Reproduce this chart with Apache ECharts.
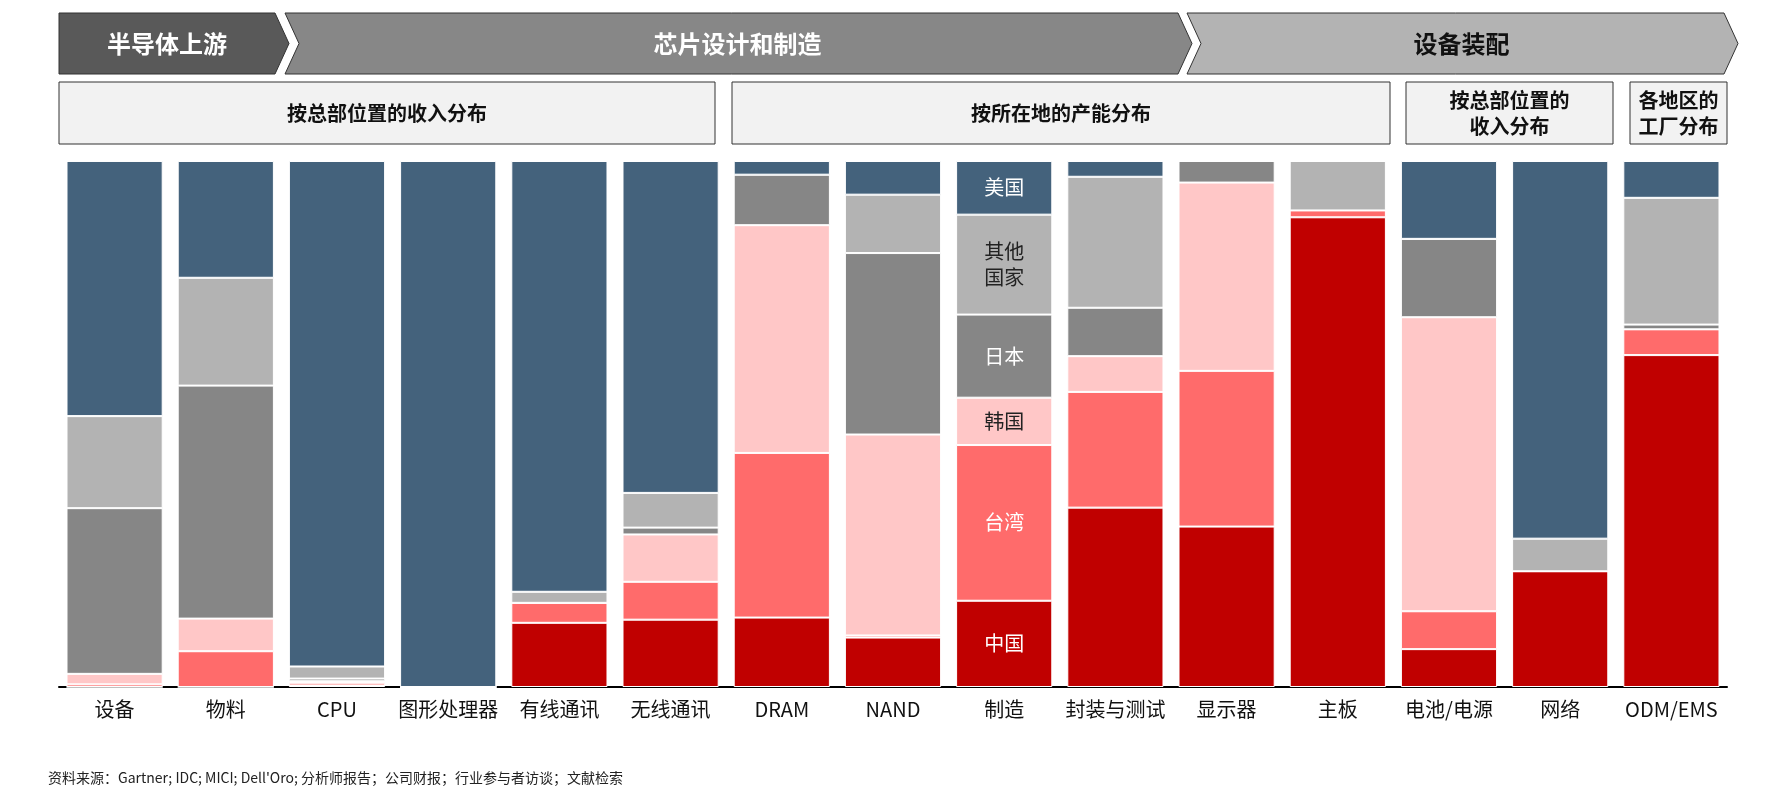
<!DOCTYPE html>
<html>
<head>
<meta charset="utf-8">
<script src="https://cdn.jsdelivr.net/npm/echarts@6/dist/echarts.min.js"></script>
<style>html,body{margin:0;padding:0;background:#fff}#chart{width:1776px;height:786px}</style>
</head>
<body>
<div id="chart"></div>
<script>
var categories = ['设备','物料','CPU','图形处理器','有线通讯','无线通讯','DRAM','NAND','制造','封装与测试','显示器','主板','电池/电源','网络','ODM/EMS'];
var regions = ['中国','台湾','韩国','日本','其他国家','美国'];
var china  = [0,   0,    0.3, 0,   12.2, 12.8, 13.2, 9.4,  16.4, 34.1, 30.5, 89.3, 7.2,  22,   63.1];
var taiwan = [0.5, 6.8,  0.5, 0,   3.8,  7.2,  31.3, 0.4,  29.6, 22,   29.6, 1.3,  7.2,  0,    4.9];
var korea  = [2,   6.2,  0.3, 0,   0,    9,    43.3, 38.2, 9,    6.8,  35.8, 0,    55.9, 0,    0];
var japan  = [31.5,44.3, 0.5, 0,   0,    1.3,  9.6,  34.5, 15.8, 9.2,  4.1,  0,    14.9, 0,    0.9];
var other  = [17.5,20.5, 2.3, 0,   2.1,  6.6,  0,    11.1, 19,   24.9, 0,    9.4,  0,    6.2,  24.1];
var usa    = [48.5,22.2, 96.1,100, 81.9, 63.1, 2.6,  6.4,  10.2, 3.0,  0,    0,    14.8, 71.8, 7.0];
var colors = ['#C00000','#FF6B6B','#FFC7C7','#868686','#B3B3B3','#44627C'];
var labelText = ['中国','台湾','韩国','日本','其他\n国家','美国'];
var labelColor = ['#fff','#fff','#222','#fff','#222','#fff'];

var seriesData = [china, taiwan, korea, japan, other, usa];
var series = seriesData.map(function (arr, i) {
    return {
        name: regions[i],
        type: 'bar',
        stack: 'total',
        barCategoryGap: '13.5%',
        itemStyle: { color: colors[i], borderColor: '#fff', borderWidth: 1 },
        data: arr.map(function (v, j) {
            var d = { value: v };
            if (j === 8) {
                d.label = { show: true, formatter: labelText[i], color: labelColor[i], fontSize: 20, lineHeight: 26 };
            }
            return d;
        })
    };
});

function chevron(x1, x2, tip, notch, color, text, fg) {
    var y1 = 13, y2 = 74, ym = 43.5;
    var pts = [[x1, y1], [x2, y1], [x2 + tip, ym], [x2, y2], [x1, y2]];
    if (notch) pts.push([x1 + notch, ym]);
    return [{
        type: 'polygon', shape: { points: pts },
        style: { fill: color, stroke: '#333', lineWidth: 1 }
    }, {
        type: 'text', x: (x1 + x2) / 2 + (notch ? 6 : 0), y: ym,
        style: { text: text, fill: fg, font: 'bold 24px "Noto Sans CJK SC"', textAlign: 'center', textVerticalAlign: 'middle' }
    }];
}
function box(x1, x2, text) {
    return [{
        type: 'rect', shape: { x: x1, y: 82, width: x2 - x1, height: 62 },
        style: { fill: '#F2F2F2', stroke: '#333', lineWidth: 1 }
    }, {
        type: 'text', x: (x1 + x2) / 2, y: 113,
        style: { text: text, fill: '#111', font: 'bold 20px "Noto Sans CJK SC"', textAlign: 'center', textVerticalAlign: 'middle', lineHeight: 26 }
    }];
}

var graphics = [].concat(
    chevron(59, 275, 14, 0, '#595959', '半导体上游', '#fff'),
    chevron(285, 1178, 14, 14, '#878787', '芯片设计和制造', '#fff'),
    chevron(1187, 1724, 14, 14, '#B3B3B3', '设备装配', '#111'),
    box(59, 715, '按总部位置的收入分布'),
    box(732, 1390, '按所在地的产能分布'),
    box(1406, 1613, '按总部位置的\n收入分布'),
    box(1630, 1727, '各地区的\n工厂分布'),
    [{
        type: 'text', x: 48, y: 778,
        style: { text: '资料来源：Gartner; IDC; MICI; Dell\'Oro; 分析师报告；公司财报；行业参与者访谈；文献检索', fill: '#222', font: '14px "Noto Sans CJK SC"', textVerticalAlign: 'middle' }
    }]
);

var chart = echarts.init(document.getElementById('chart'));
chart.setOption({
    animation: false,
    textStyle: { fontFamily: '"Noto Sans CJK SC"' },
    grid: { left: 59, right: 49, top: 161, bottom: 99 },
    xAxis: {
        type: 'category', data: categories,
        axisLine: { lineStyle: { color: '#000', width: 2 } },
        axisTick: { show: false },
        axisLabel: { color: '#111', fontSize: 20, margin: 12, interval: 0 }
    },
    yAxis: { type: 'value', min: 0, max: 100, show: false, splitLine: { show: false } },
    series: series,
    graphic: graphics
});
</script>
</body>
</html>
